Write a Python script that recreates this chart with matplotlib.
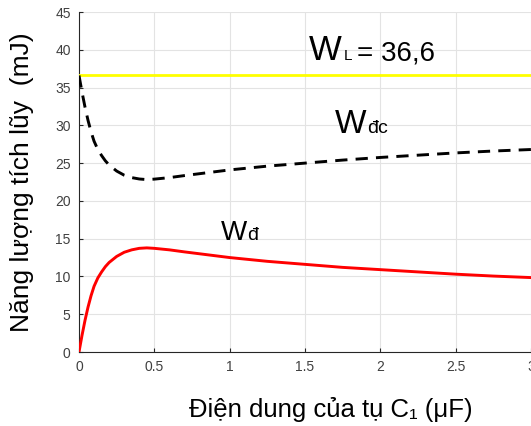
import matplotlib
matplotlib.use("Agg")
import matplotlib.pyplot as plt

plt.rcParams["font.family"] = ["Liberation Sans", "DejaVu Sans"]

# capacitance C1 (uF)
c1 = [0, 0.02, 0.04, 0.06, 0.08, 0.1, 0.125, 0.15, 0.175, 0.2, 0.25, 0.3, 0.35, 0.4, 0.45,
      0.5, 0.6, 0.7, 0.8, 0.9, 1.0, 1.25, 1.5, 1.75, 2.0, 2.25, 2.5, 2.75, 3.0]
# stored energy (mJ)
w_d = [0, 2.2, 4.2, 5.95, 7.45, 8.7, 9.8, 10.6, 11.3, 11.85, 12.65, 13.2, 13.52, 13.72, 13.78,
       13.72, 13.52, 13.25, 13.0, 12.75, 12.5, 12.0, 11.6, 11.2, 10.9, 10.6, 10.3, 10.05, 9.85]
w_dc = [36.6, 34.4, 32.4, 30.65, 29.15, 27.9, 26.8, 26.0, 25.3, 24.75, 23.95, 23.4, 23.08, 22.9, 22.82,
        22.88, 23.08, 23.35, 23.6, 23.85, 24.1, 24.6, 25.0, 25.4, 25.75, 26.05, 26.35, 26.6, 26.8]
w_l = 36.6

fig = plt.figure(figsize=(5.31, 4.26), dpi=100)
ax = fig.add_axes([79 / 531, 1 - 352 / 426, 1 - 79 / 531, 340 / 426])

ax.axhline(w_l, color="#ffff00", lw=2.0, zorder=3)
ax.plot(c1, w_dc, color="black", lw=2.1, ls=(0, (4.2, 2.8)), zorder=3)
ax.plot(c1, w_d, color="#ff0000", lw=2.1, zorder=3)

ax.set_xlim(0, 3)
ax.set_ylim(0, 45)
ax.set_xticks([0, 0.5, 1, 1.5, 2, 2.5, 3])
ax.set_xticklabels(["0", "0.5", "1", "1.5", "2", "2.5", "3"])
ax.set_yticks(range(0, 46, 5))
ax.grid(True, color="#e3e3e3", lw=0.8)
ax.set_axisbelow(True)
for s in ["top", "right"]:
    ax.spines[s].set_visible(False)
for s in ["left", "bottom"]:
    ax.spines[s].set_color("#262626")
    ax.spines[s].set_linewidth(0.8)
ax.tick_params(direction="in", length=3, colors="#262626", labelcolor="#404040",
               labelsize=10, pad=6)

# curve labels
ax.text(1.525, 38.6, "W", fontsize=25, va="baseline")
ax.text(1.755, 38.6, "L", fontsize=11, va="baseline")
ax.text(1.845, 38.6, "= 36,6", fontsize=20, va="baseline")
ax.text(1.70, 29.0, "W", fontsize=24, va="baseline")
ax.text(1.915, 29.0, "đc", fontsize=14, va="baseline")
ax.text(0.94, 14.8, "W", fontsize=20, va="baseline")
ax.text(1.115, 14.8, "đ", fontsize=14, va="baseline")

ax.set_ylabel("Năng lượng tích lũy  (mJ)", fontsize=19, va="center")
ax.yaxis.set_label_coords(-0.126, 0.5)
ax.set_xlabel("Điện dung của tụ C₁ (μF)", fontsize=18.5, va="center")
ax.xaxis.set_label_coords(0.5575, -0.17)

fig.savefig("out.png", dpi=100)
